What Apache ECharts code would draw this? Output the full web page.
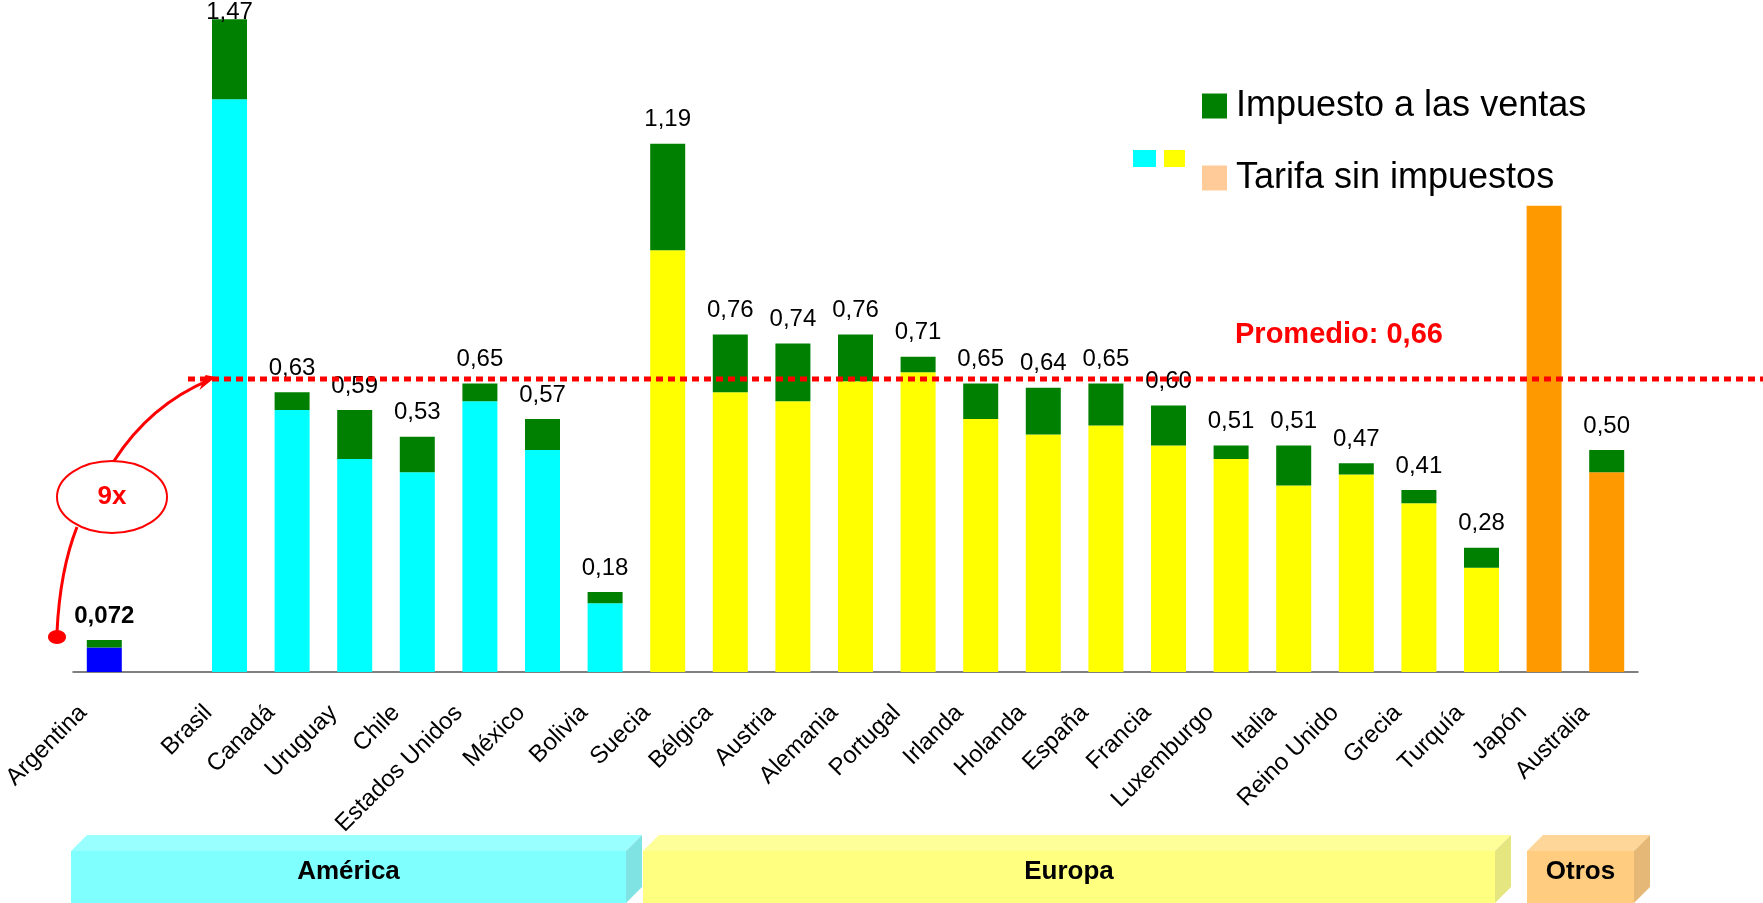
<!DOCTYPE html>
<html>
<head>
<meta charset="utf-8">
<script src="https://cdn.jsdelivr.net/npm/echarts@6/dist/echarts.min.js"></script>
<style>
html,body{margin:0;padding:0;background:#fff}
#main{width:1763px;height:903px}
</style>
</head>
<body>
<div id="main"></div>
<script>
// datos
var paises = ['Argentina', '', 'Brasil', 'Canadá', 'Uruguay', 'Chile', 'Estados Unidos', 'México', 'Bolivia',
	'Suecia', 'Bélgica', 'Austria', 'Alemania', 'Portugal', 'Irlanda', 'Holanda', 'España', 'Francia',
	'Luxemburgo', 'Italia', 'Reino Unido', 'Grecia', 'Turquía', 'Japón', 'Australia'];
var regiones = ['América', null, 'América', 'América', 'América', 'América', 'América', 'América', 'América',
	'Europa', 'Europa', 'Europa', 'Europa', 'Europa', 'Europa', 'Europa', 'Europa', 'Europa',
	'Europa', 'Europa', 'Europa', 'Europa', 'Europa', 'Otros', 'Otros'];
var tarifa = [0.055, null, 1.29, 0.59, 0.48, 0.45, 0.61, 0.50, 0.155,
	0.95, 0.63, 0.61, 0.655, 0.675, 0.57, 0.535, 0.555, 0.51,
	0.48, 0.42, 0.445, 0.38, 0.235, 1.05, 0.45];
var totales = [0.072, null, 1.47, 0.63, 0.59, 0.53, 0.65, 0.57, 0.18,
	1.19, 0.76, 0.74, 0.76, 0.71, 0.65, 0.64, 0.65, 0.60,
	0.51, 0.51, 0.47, 0.41, 0.28, null, 0.50];
var promedio = 0.66;
var bloques = ['América', 'Europa', 'Otros'];

var colores = {'América': '#00FFFF', 'Europa': '#FFFF00', 'Otros': '#FF9900'};
var fuente = '"Liberation Sans", Arial, sans-serif';

function fmt(v){
	return (v < 0.1 ? v.toFixed(3) : v.toFixed(2)).replace('.', ',');
}

var dataTarifa = [];
var dataImpuesto = [];
for (var i = 0; i < paises.length; i++) {
	dataTarifa.push({
		value: tarifa[i],
		itemStyle: {color: i == 0 ? '#0000FF' : colores[regiones[i]]}
	});
	var imp = totales[i] != null ? +(totales[i] - tarifa[i]).toFixed(3) : null;
	var item = {value: imp};
	if (i == 0) item.label = {fontWeight: 'bold'};
	if (totales[i] > 1.4) item.label = {distance: -5};
	dataImpuesto.push(item);
}

var myChart = echarts.init(document.getElementById('main'));
var option = {
	animation: false,
	grid: {left: 73, right: 125, top: 6, bottom: 231, containLabel: false, outerBoundsMode: 'none'},
	legend: {
		orient: 'vertical',
		left: 1197,
		top: 83,
		itemWidth: 25,
		itemHeight: 25,
		itemGap: 36,
		icon: 'rect',
		data: ['Impuesto a las ventas', 'Tarifa sin impuestos'],
		textStyle: {fontSize: 36, color: '#000', fontFamily: fuente, padding: [0, 0, 0, 4]}
	},
	xAxis: {
		type: 'category',
		data: paises,
		axisLine: {lineStyle: {color: '#555', width: 1.5}},
		axisTick: {show: false},
		axisLabel: {
			interval: 0,
			rotate: 45,
			margin: 16,
			padding: [0, 30, 0, 0],
			fontSize: 24,
			color: '#000',
			fontFamily: fuente
		}
	},
	yAxis: {type: 'value', min: 0, max: 1.5, show: false},
	series: [
		{
			name: 'Tarifa sin impuestos',
			type: 'bar',
			stack: 'total',
			barWidth: 35,
			itemStyle: {color: '#FFCC99'},
			data: dataTarifa
		},
		{
			name: 'Impuesto a las ventas',
			type: 'bar',
			stack: 'total',
			barWidth: 35,
			itemStyle: {color: '#008000'},
			label: {
				show: true,
				position: 'top',
				distance: 12,
				fontSize: 24,
				color: '#000',
				fontFamily: fuente,
				formatter: function(p){
					var t = totales[p.dataIndex];
					return t == null ? '' : fmt(t);
				}
			},
			data: dataImpuesto
		}
	]
};
myChart.setOption(option);

// anotaciones
var yProm = myChart.convertToPixel({yAxisIndex: 0}, promedio);
var xBrasil = myChart.convertToPixel({xAxisIndex: 0}, 'Brasil');
var tip = [xBrasil - 14, yProm - 2];

var cajas = [[71, 626], [643, 1495], [1527, 1634]];
var caraColor = {
	'América': ['#80FFFF', '#99FFFF', '#80E3E3'],
	'Europa': ['#FFFF80', '#FFFF99', '#E6E680'],
	'Otros': ['#FFCC80', '#FFD699', '#E6B878']
};
var graficos = [];
var d = 16, yT = 851, yB = 903;
bloques.forEach(function(b, k){
	var x0 = cajas[k][0], x1 = cajas[k][1], c = caraColor[b];
	graficos.push({type: 'polygon', shape: {points: [[x0, yT], [x0 + d, yT - d], [x1 + d, yT - d], [x1, yT]]}, style: {fill: c[1]}});
	graficos.push({type: 'polygon', shape: {points: [[x1, yT], [x1 + d, yT - d], [x1 + d, yB - d], [x1, yB]]}, style: {fill: c[2]}});
	graficos.push({type: 'rect', shape: {x: x0, y: yT, width: x1 - x0, height: yB - yT}, style: {fill: c[0]}});
	graficos.push({type: 'text', x: (x0 + x1) / 2, y: 872, style: {text: b, font: 'bold 26px ' + fuente, fill: '#000', align: 'center', verticalAlign: 'middle'}});
});

graficos.push({type: 'rect', shape: {x: 1133, y: 150, width: 23, height: 17}, style: {fill: '#00FFFF'}});
graficos.push({type: 'rect', shape: {x: 1164, y: 150, width: 21, height: 17}, style: {fill: '#FFFF00'}});

graficos.push({type: 'line', z: 10, shape: {x1: 188, y1: yProm, x2: 1763, y2: yProm},
	style: {stroke: '#FF0000', lineWidth: 5, lineDash: [7, 5]}});
graficos.push({type: 'text', z: 10, x: 1235, y: yProm - 44, style: {text: 'Promedio: 0,66', font: 'bold 29px ' + fuente, fill: '#FF0000', verticalAlign: 'middle'}});

graficos.push({type: 'bezierCurve', z: 10, shape: {x1: 57, y1: 632, cpx1: 60, cpy1: 570, x2: 77, y2: 527},
	style: {stroke: '#FF0000', lineWidth: 3, fill: null}});
graficos.push({type: 'bezierCurve', z: 10, shape: {x1: 114, y1: 461, cpx1: 150, cpy1: 405, x2: tip[0] - 6, y2: tip[1] + 3},
	style: {stroke: '#FF0000', lineWidth: 3, fill: null}});
graficos.push({type: 'polygon', z: 10, shape: {points: [tip, [tip[0] - 16, tip[1] + 13], [tip[0] - 10, tip[1] - 2]]}, style: {fill: '#FF0000'}});
graficos.push({type: 'ellipse', z: 10, shape: {cx: 57, cy: 637, rx: 9, ry: 7}, style: {fill: '#FF0000'}});
graficos.push({type: 'ellipse', z: 10, shape: {cx: 112, cy: 497, rx: 55, ry: 36}, style: {fill: '#fff', stroke: '#FF0000', lineWidth: 2}});
graficos.push({type: 'text', z: 11, x: 112, y: 497, style: {text: '9x', font: 'bold 26px ' + fuente, fill: '#FF0000', align: 'center', verticalAlign: 'middle'}});

myChart.setOption({graphic: graficos});
</script>
</body>
</html>
